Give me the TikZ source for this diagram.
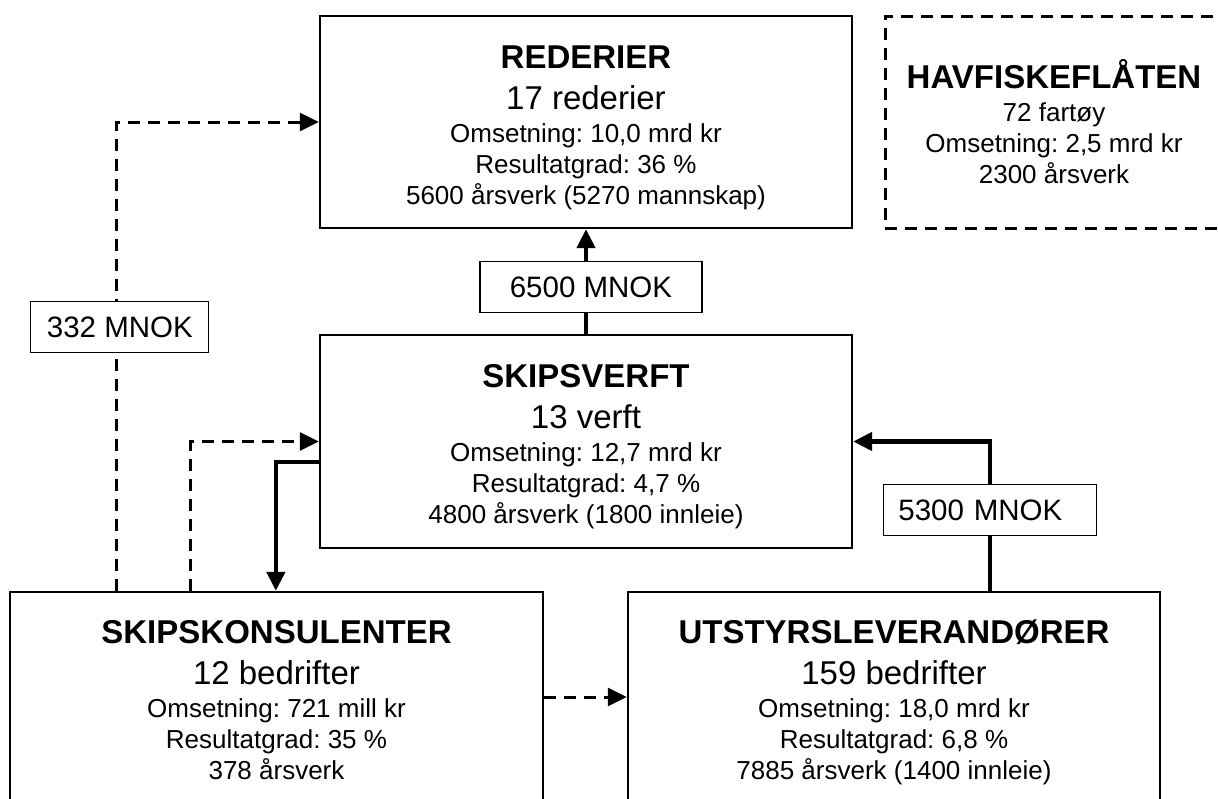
\documentclass[tikz,border=0pt]{standalone}
\usepackage{fontspec}
\setmainfont{Liberation Sans}
\usepackage{tikz}
\usetikzlibrary{arrows.meta}
\frenchspacing

\newcommand\headfont{\fontsize{33pt}{38pt}\selectfont\bfseries}
\newcommand\countfont{\fontsize{33pt}{38pt}\selectfont}
\newcommand\factfont{\fontsize{26pt}{31pt}\selectfont}
\newcommand\mnokfont{\fontsize{29.5pt}{34pt}\selectfont}
\newcommand\headline[1]{{\headfont\rule{0pt}{33.6pt}#1}}
\newcommand\lastline[1]{#1\rule[-34pt]{0pt}{34pt}}

\begin{document}
\begin{tikzpicture}[x=1pt, y=-1pt, >={Triangle[length=19pt,width=18pt]},
  firm/.style={draw, line width=2.3pt, align=center, font=\factfont, inner sep=0pt},
  fleet/.style={firm, line width=3pt, dash pattern=on 12pt off 8pt},
  mnok/.style={draw, solid, fill=white, line width=1.2pt, font=\mnokfont, inner sep=0pt, minimum height=51pt},
  money/.style={->, line width=4.5pt},
  service/.style={->, line width=3pt, dash pattern=on 12pt off 8pt}]
\useasboundingbox (0,0) rectangle (1218,798);
\clip (0,0) rectangle (1218,798);
% Bokser
\node[firm, minimum width=532pt, minimum height=212pt] (rederier) at (586,122)
  {\headline{REDERIER}\\[10pt]{\countfont 17 rederier}\\[2pt]Omsetning: 10,0 mrd kr\\Resultatgrad: 36 \%\\5600 årsverk (5270 mannskap)};
\node[fleet, minimum width=338pt, minimum height=212pt] (havfisk) at (1054,122)
  {{\headfont HAVFISKEFLÅTEN}\\[2pt]72 fartøy\\Omsetning: 2,5 mrd kr\\2300 årsverk};
\node[firm, minimum width=532pt, minimum height=213pt] (verft) at (586,441.5)
  {\headline{SKIPSVERFT}\\[10pt]{\countfont 13 verft}\\[2pt]Omsetning: 12,7 mrd kr\\Resultatgrad: 4,7 \%\\4800 årsverk (1800 innleie)};
\node[firm, minimum width=533pt, minimum height=240pt] (konsulent) at (276.5,712)
  {\headline{SKIPSKONSULENTER}\\[10pt]{\countfont 12 bedrifter}\\[2pt]Omsetning: 721 mill kr\\Resultatgrad: 35 \%\\\lastline{378 årsverk}};
\node[firm, minimum width=532pt, minimum height=240pt] (utstyr) at (894,712)
  {\headline{UTSTYRSLEVERANDØRER}\\[10pt]{\countfont 159 bedrifter}\\[2pt]Omsetning: 18,0 mrd kr\\Resultatgrad: 6,8 \%\\\lastline{7885 årsverk (1400 innleie)}};
% Pengestrømmer
\draw[money] (verft) -- node[mnok, minimum width=222pt, pos=.444, xshift=5pt] {6500 MNOK} (rederier);
\draw[money] ([xshift=363pt]utstyr.north west) |- node[mnok, pos=.27, inner xsep=15pt, text width=183pt, align=left] {5300 MNOK} (verft.east);
\draw[money] ([yshift=-20.5pt]verft.west) -| ([xshift=267pt]konsulent.north west);
% Tjenester
\draw[service] ([xshift=108pt]konsulent.north west) |- node[mnok, minimum width=178pt, pos=.281, xshift=3pt] {332 MNOK} (rederier.west);
\draw[service] ([xshift=182pt]konsulent.north west) |- (verft.west);
\draw[service] ([yshift=15pt]konsulent.east) -- ([yshift=15pt]konsulent.east -| utstyr.west);
\end{tikzpicture}
\end{document}
